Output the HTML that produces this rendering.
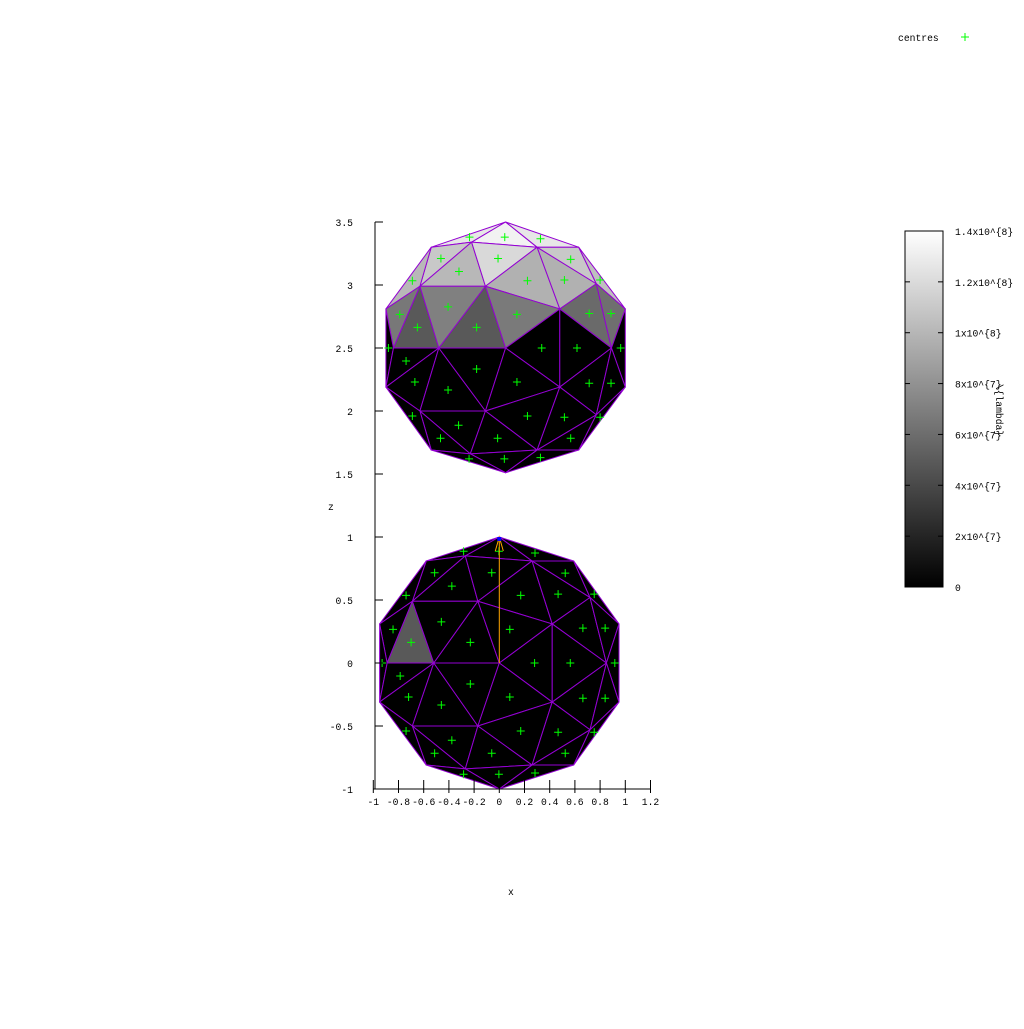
<!DOCTYPE html>
<html><head><meta charset="utf-8"><style>
body{margin:0;background:#fff}
svg text{font-family:"Liberation Mono","DejaVu Sans Mono",monospace;font-size:9.7px;fill:#000}
</style></head><body>
<svg id="c" width="1024" height="1024" xmlns="http://www.w3.org/2000/svg">
<defs><linearGradient id="gr" x1="0" y1="0" x2="0" y2="1"><stop offset="0" stop-color="#fff"/><stop offset="1" stop-color="#000"/></linearGradient></defs>
<g id="plot"></g>
<g id="axes"></g>
<text x="898" y="41">centres</text>
<g stroke="#00ff00" stroke-width="1"><line x1="961" y1="37" x2="969" y2="37"/><line x1="965" y1="33" x2="965" y2="41"/></g>
<rect x="905" y="231" width="38" height="356" fill="url(#gr)" stroke="#000"/>
<g id="cb"></g>
<text transform="translate(996,410) rotate(90)" text-anchor="middle">\{lambda}</text>
<text x="328" y="510">z</text>
<text x="508" y="895">x</text>
</svg>
<script>
const xTicks=[-1,-0.8,-0.6,-0.4,-0.2,0,0.2,0.4,0.6,0.8,1,1.2];
const zTicks=[-1,-0.5,0,0.5,1,1.5,2,2.5,3,3.5];
const cbTicks=[0,2,4,6,8,10,12,14];
const cbLabels=["0","2x10^{7}","4x10^{7}","6x10^{7}","8x10^{7}","1x10^{8}","1.2x10^{8}","1.4x10^{8}"];
const vertX=[0.05,-0.54,-0.22,0.30,0.63,-0.63,-0.11,0.77,-0.90,1.0,0.48,-0.84,-0.48,0.05,0.89,-0.90,1.0,0.48,-0.63,-0.11,0.77,-0.54,-0.23,0.30,0.63,0.05];
const vertZup=[3.5,3.30,3.34,3.30,3.30,2.99,2.99,3.01,2.81,2.81,2.81,2.5,2.5,2.5,2.5,2.19,2.19,2.19,2.0,2.0,1.97,1.69,1.66,1.69,1.69,1.51];
const vertXlo=[0,-0.58,-0.27,0.26,0.59,-0.69,-0.17,0.72,-0.95,0.95,0.42,-0.89,-0.52,0,0.85,-0.95,0.95,0.42,-0.69,-0.17,0.72,-0.58,-0.27,0.26,0.59,0];
const vertZlo=[1,0.81,0.85,0.81,0.81,0.49,0.49,0.52,0.31,0.31,0.31,0,0,0,0,-0.31,-0.31,-0.31,-0.5,-0.5,-0.53,-0.81,-0.84,-0.81,-0.81,-1];
const faces=[[1,2,0],[2,0,3],[0,3,4],[1,5,2],[2,5,6],[2,6,3],[6,3,10],[3,10,7],[3,4,7],[4,7,9],[1,8,5],
[8,5,11],[5,11,12],[5,12,6],[6,12,13],[6,13,10],[10,7,14],[7,9,14],[13,10,17],[10,14,17],[14,9,16],[8,11,15],
[15,11,12],[15,12,18],[12,18,19],[12,13,19],[13,19,17],[17,14,20],[14,16,20],[19,17,23],[17,20,23],[20,23,24],[20,16,24],
[18,19,22],[18,21,22],[15,18,21],[19,22,23],[22,23,25],[21,22,25],[23,24,25]];
const lambdaUp=[12.7,13.3,12.7,11,10.1,11.9,9.7,9.7,11,10.5,10.1,6.6,4.9,7.0,4.9,6.7,5.8,6.1,0,0,0,0,0,0,0,0,0,0,0,0,0,0,0,0,0,0,0,0,0,0];
const lambdaLo=[0,0,0,0,0,0,0,0,0,0,0,0,4.9,0,0,0,0,0,0,0,0,0,0,0,0,0,0,0,0,0,0,0,0,0,0,0,0,0,0,0];
const sx=v=>499.3+v*126, sz=v=>663-v*126, cbY=v=>587-v*(356/14);
const NS="http://www.w3.org/2000/svg";
function mk(t,a,p){const e=document.createElementNS(NS,t);for(const k in a)e.setAttribute(k,a[k]);p.appendChild(e);return e;}
const plot=document.getElementById('plot'),axes=document.getElementById('axes'),cb=document.getElementById('cb');
function sphere(VX,VZ,L,nm){
  const g=mk('g',{},plot);
  
  
  faces.forEach((f,i)=>{const c=Math.round(255*L[i]/14);
    const el=mk('polygon',{points:f.map(k=>sx(VX[k])+','+sz(VZ[k])).join(' '),fill:`rgb(${c},${c},${c})`,stroke:'#9400d3','stroke-width':1,'stroke-linejoin':'round'},g);
    
    });
  faces.forEach(f=>{const cx=sx((VX[f[0]]+VX[f[1]]+VX[f[2]])/3),cy=sz((VZ[f[0]]+VZ[f[1]]+VZ[f[2]])/3);
    const m=mk('path',{d:`M${cx-4},${cy}h8M${cx},${cy-4}v8`,stroke:'#00ff00','stroke-width':1},g);
    
    });
}
sphere(vertX,vertZup,lambdaUp,'upper-sphere');
sphere(vertXlo,vertZlo,lambdaLo,'lower-sphere');
const ar=mk('g',{},plot);


mk('line',{x1:sx(0),y1:sz(0),x2:sx(0),y2:sz(1),stroke:'#ffa500','stroke-width':1},ar);
mk('path',{d:`M${sx(0)-4},${sz(1)+14}L${sx(0)},${sz(1)}L${sx(0)+4},${sz(1)+14}`,stroke:'#ffa500',fill:'none'},ar);
mk('rect',{x:sx(0)-2,y:sz(1),width:4,height:4,fill:'#0000ff'},ar);
mk('line',{x1:375,y1:sz(3.5),x2:375,y2:sz(-1),stroke:'#000'},axes);
mk('line',{x1:sx(-1),y1:sz(-1),x2:sx(1.2),y2:sz(-1),stroke:'#000'},axes);
zTicks.forEach(v=>{mk('line',{x1:375,y1:sz(v),x2:383,y2:sz(v),stroke:'#000'},axes);
  const t=mk('text',{x:353,y:sz(v)+4,'text-anchor':'end'},axes);t.textContent=v;
  
  });
xTicks.forEach(v=>{mk('line',{x1:sx(v),y1:sz(-1)+4,x2:sx(v),y2:sz(-1)-9,stroke:'#000'},axes);
  const t=mk('text',{x:sx(v),y:sz(-1)+16,'text-anchor':'middle'},axes);t.textContent=v;
  
  });
cbTicks.forEach((v,i)=>{mk('line',{x1:905,y1:cbY(v),x2:910,y2:cbY(v),stroke:'#000'},cb);mk('line',{x1:938,y1:cbY(v),x2:943,y2:cbY(v),stroke:'#000'},cb);
  const t=mk('text',{x:955,y:cbY(v)+4},cb);t.textContent=cbLabels[i];
  
  });
</script>
</body></html>
